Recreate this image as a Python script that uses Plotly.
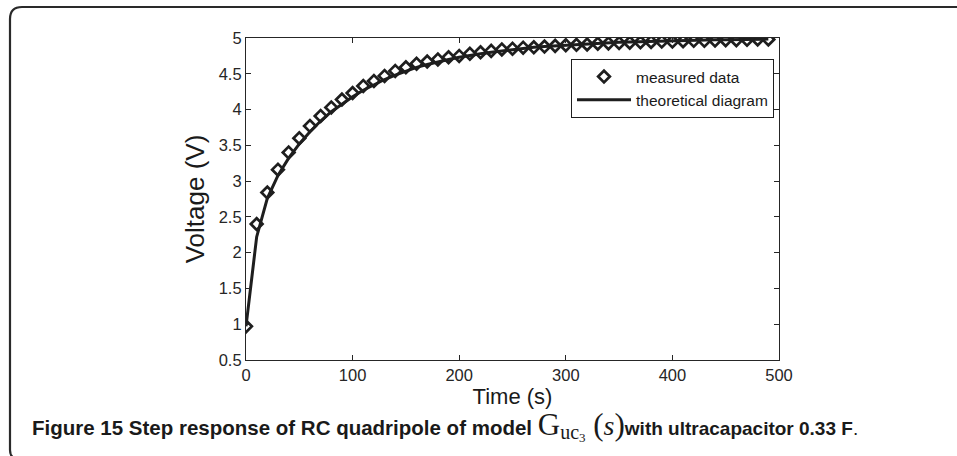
import plotly.graph_objects as go

# Step response of an RC quadripole (ultracapacitor 0.33 F)
time_s = [0, 10, 20, 30, 40, 50, 60, 70, 80, 90,
          100, 110, 120, 130, 140, 150, 160, 170, 180, 190,
          200, 210, 220, 230, 240, 250, 260, 270, 280, 290,
          300, 310, 320, 330, 340, 350, 360, 370, 380, 390,
          400, 410, 420, 430, 440, 450, 460, 470, 480, 490]

measured_v = [0.97, 2.40, 2.84, 3.16, 3.40, 3.60, 3.77, 3.91, 4.03, 4.14,
              4.23, 4.33, 4.40, 4.47, 4.54, 4.59, 4.64, 4.67, 4.70, 4.73,
              4.75, 4.78, 4.80, 4.82, 4.84, 4.85, 4.865, 4.87, 4.88, 4.89,
              4.90, 4.905, 4.91, 4.92, 4.925, 4.93, 4.935, 4.94, 4.945, 4.95,
              4.95, 4.955, 4.96, 4.96, 4.965, 4.97, 4.97, 4.975, 4.98, 4.98]

theoretical_v = [0.97, 2.22, 2.76, 3.08, 3.32, 3.52, 3.69, 3.84, 3.97, 4.08,
                 4.18, 4.27, 4.35, 4.42, 4.48, 4.54, 4.59, 4.63, 4.67, 4.70,
                 4.73, 4.76, 4.78, 4.80, 4.82, 4.84, 4.85, 4.87, 4.88, 4.89,
                 4.90, 4.91, 4.92, 4.925, 4.93, 4.94, 4.945, 4.95, 4.955, 4.96,
                 4.96, 4.965, 4.97, 4.97, 4.975, 4.975, 4.98, 4.98, 4.985, 4.985]

x_ticks = [0, 100, 200, 300, 400, 500]
y_ticks = [0.5, 1, 1.5, 2, 2.5, 3, 3.5, 4, 4.5, 5]
y_tick_text = ["0.5", "1", "1.5", "2", "2.5", "3", "3.5", "4", "4.5", "5"]

W, H = 957, 456
L, R, T, B = 246, 779, 38, 360   # plot area in pixels


def px(x):
    return (x - L) / (R - L)


def py(y):
    return (B - y) / (B - T)


INK = "#1e1e1e"
SANS = "Liberation Sans, Arial, sans-serif"

fig = go.Figure()

fig.add_trace(go.Scatter(
    x=time_s, y=theoretical_v, mode="lines", name="theoretical diagram",
    line=dict(color=INK, width=3), legendrank=2,
))
fig.add_trace(go.Scatter(
    x=time_s, y=measured_v, mode="markers", name="measured data",
    marker=dict(symbol="diamond-open", size=9, color=INK,
                line=dict(width=2.7, color=INK)),
    legendrank=1,
))

axis_common = dict(
    showgrid=False, zeroline=False, showline=True, linecolor="#262626",
    linewidth=1.2, mirror="ticks", ticks="inside", ticklen=5,
    tickcolor="#262626", tickwidth=1,
    tickfont=dict(family=SANS, size=16.5, color="#262626"),
)

fig.update_xaxes(
    range=[0, 500], tickvals=x_ticks,
    title=dict(text="Time (s)", font=dict(family=SANS, size=22, color="#1a1a1a"),
               standoff=2),
    **axis_common,
)
fig.update_yaxes(
    range=[0.5, 5], tickvals=y_ticks, ticktext=y_tick_text,
    title=dict(text="Voltage (V)", font=dict(family=SANS, size=26, color="#1a1a1a"),
               standoff=6),
    **axis_common,
)

# Frame around the figure and its caption
frame = (f"M {px(957)},{py(7)} L {px(22)},{py(7)} "
         f"Q {px(10)},{py(7)} {px(10)},{py(19)} "
         f"L {px(10)},{py(450)} Q {px(10)},{py(456)} {px(14)},{py(458)}")
fig.add_shape(type="path", path=frame, xref="paper", yref="paper",
              line=dict(color="#2a2a2a", width=2.2), layer="above")

serif = "Liberation Serif, Times New Roman, serif"
narrow = "Liberation Sans Narrow, Arial Narrow, Liberation Sans, Arial, sans-serif"
caption = (
    "<b>Figure 15 Step response of RC quadripole of model </b>"
    f"<span style='font-family:{serif};font-size:31px'>G</span>"
    f"<sub><span style='font-family:{serif};font-size:20px'>uc</span>"
    f"<sub><span style='font-family:{serif};font-size:13px'>3</span></sub></sub>"
    f"<span style='font-family:{serif};font-size:31px'> (</span>"
    f"<span style='font-family:{serif};font-size:28px'><i>s</i></span>"
    f"<span style='font-family:{serif};font-size:31px'>)</span>"
    "<span style='font-size:19px'><b>with ultracapacitor 0.33 F</b>.</span>"
)
fig.add_annotation(
    text=caption, xref="paper", yref="paper", x=px(30), y=py(426),
    xanchor="left", yanchor="middle", showarrow=False,
    font=dict(family=narrow, size=20.5, color="#1a1a1a"),
)

fig.update_layout(
    width=W, height=H,
    margin=dict(l=L, r=W - R, t=T, b=H - B, autoexpand=False),
    paper_bgcolor="white", plot_bgcolor="white",
    showlegend=True,
    legend=dict(
        x=px(774), xanchor="right", y=py(59), yanchor="top",
        bgcolor="white", bordercolor="#1e1e1e", borderwidth=1,
        font=dict(family=SANS, size=15.5, color="#1a1a1a"),
        traceorder="normal", itemwidth=54, tracegroupgap=0,
    ),
)

fig.write_html("out.html")
